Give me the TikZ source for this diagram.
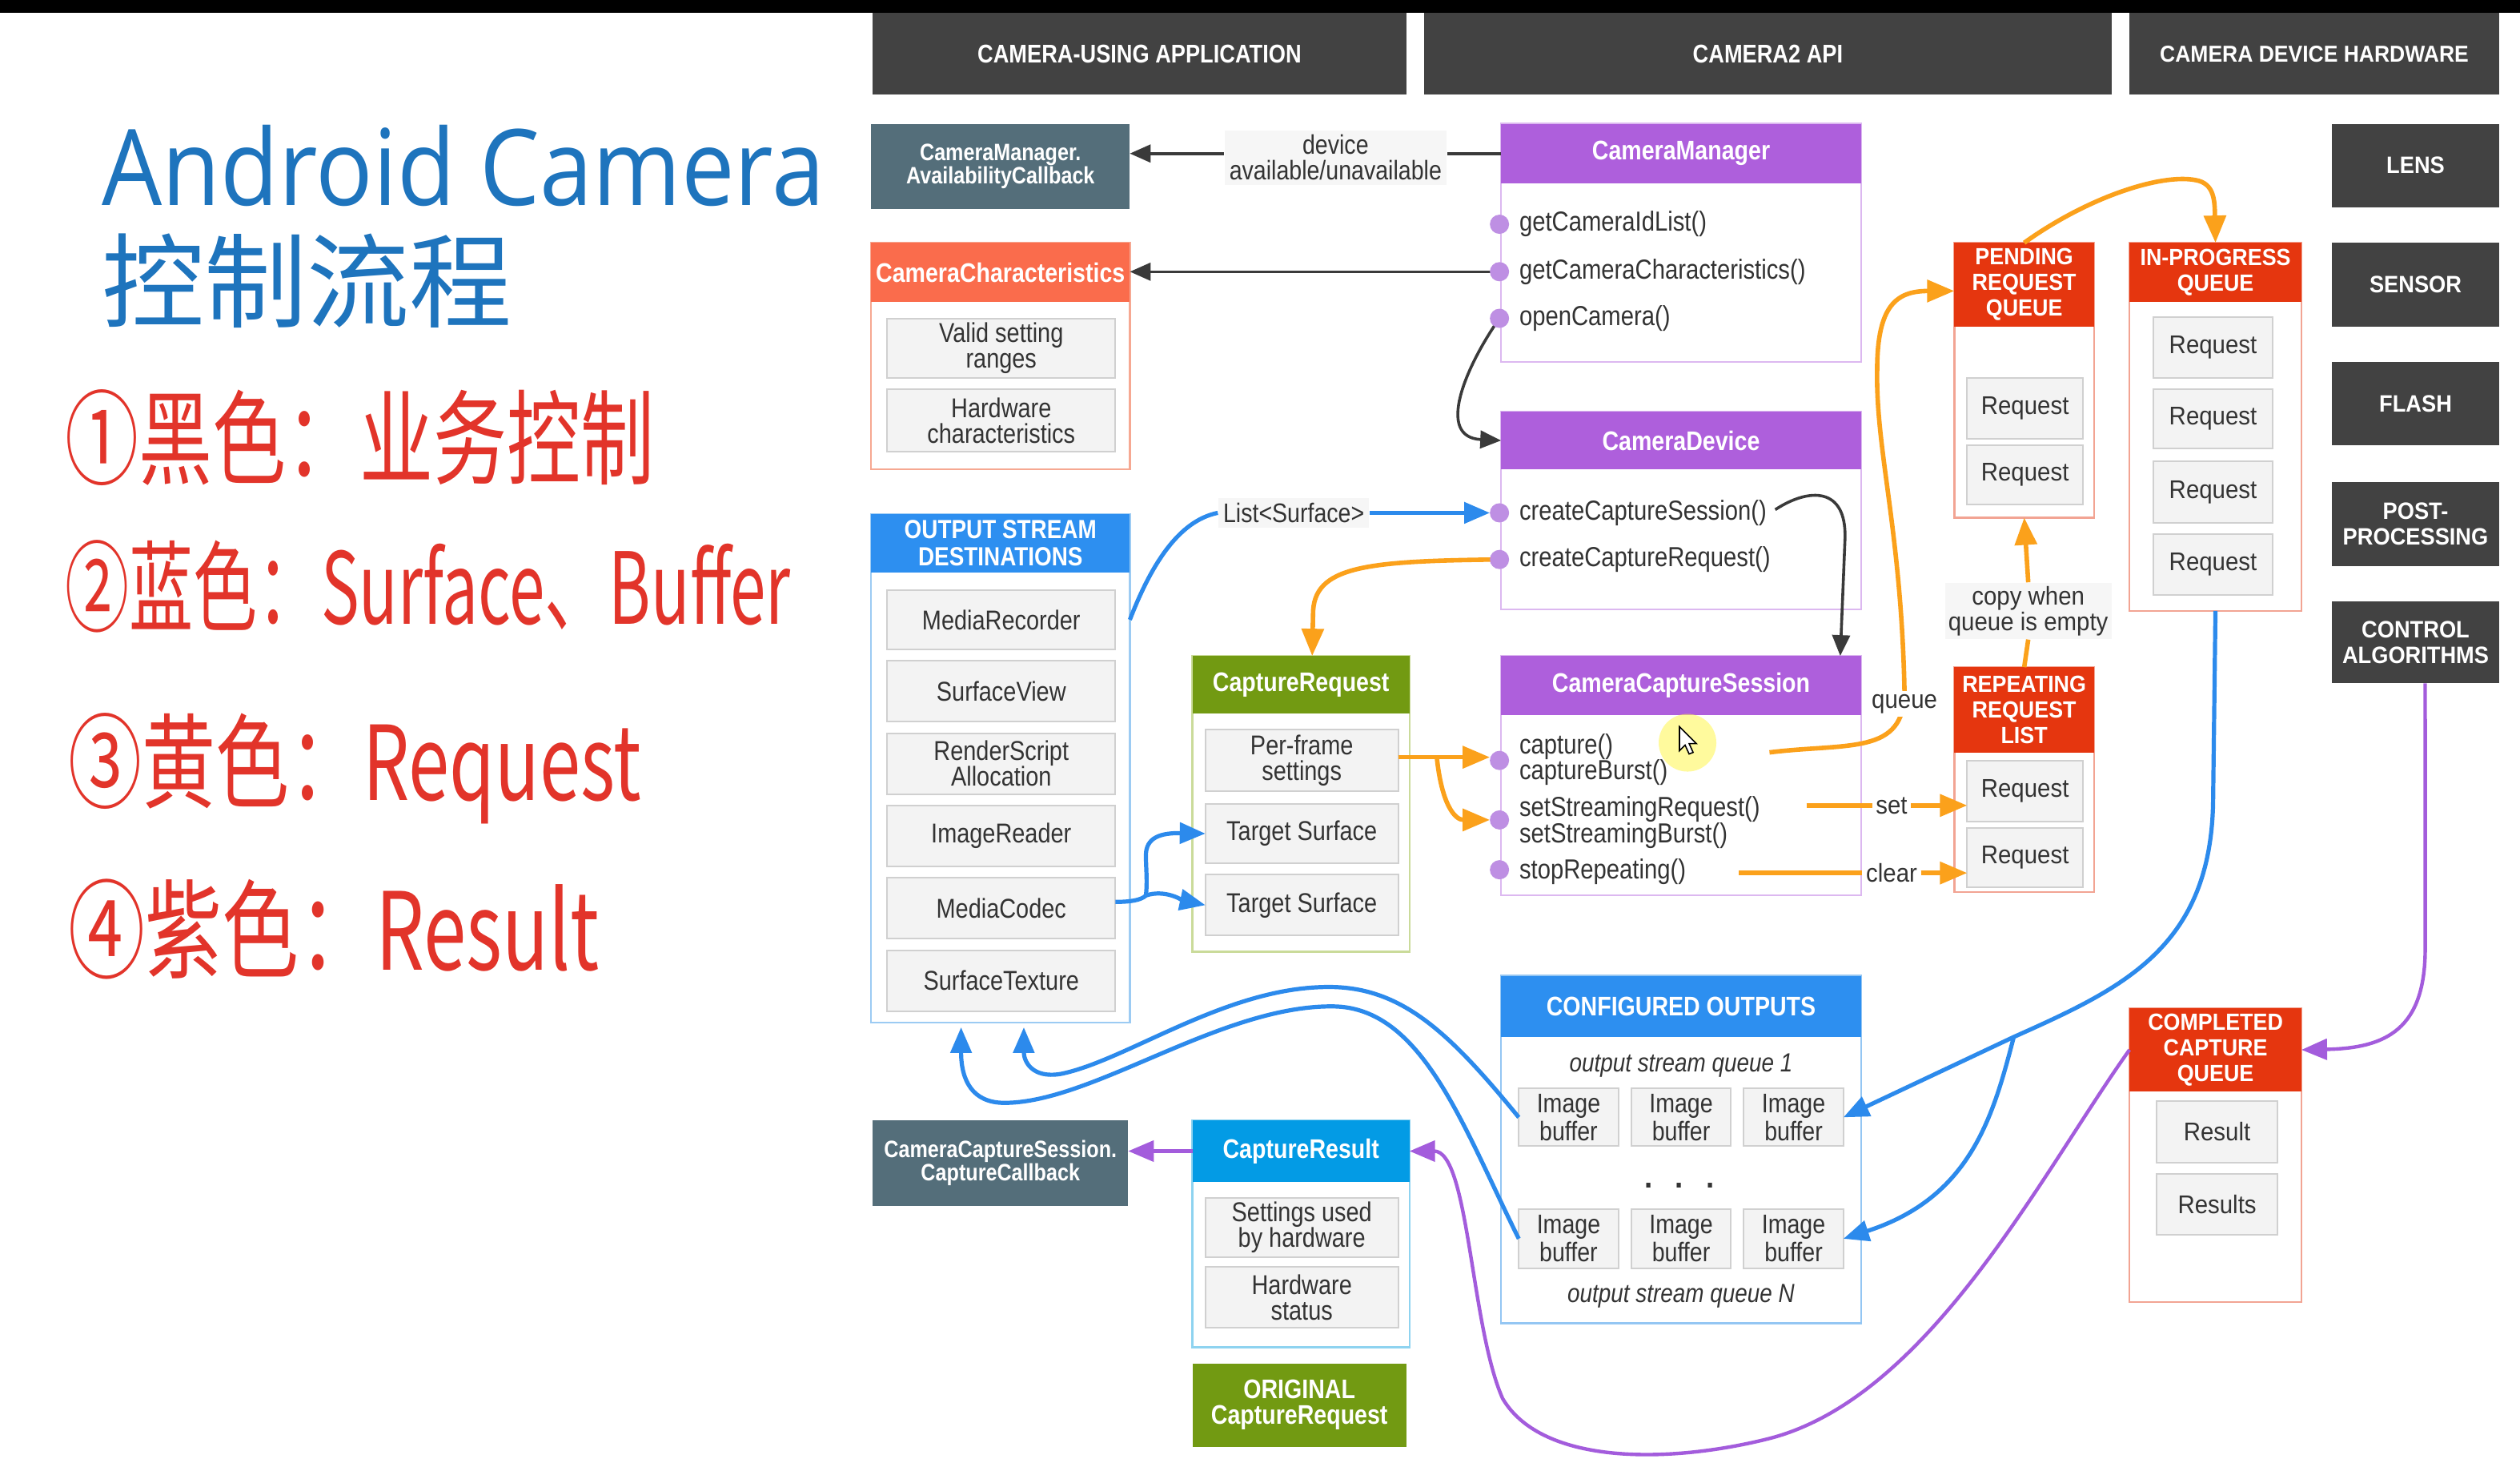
\documentclass[tikz,border=0pt]{standalone}
\usepackage{fontspec}
\usepackage{graphicx}
\usetikzlibrary{arrows.meta,calc}
\setmainfont{Liberation Sans}
\newfontfamily\cnd[FakeStretch=0.85]{Liberation Sans}
\newfontfamily\wde[FakeStretch=0.92]{Liberation Sans}
\newfontfamily\ttl[FakeStretch=0.9]{Open Sans}
\newfontfamily\cjk{Noto Sans CJK SC}
\pgfdeclarelayer{bg}
\pgfsetlayers{bg,main}
\definecolor{hdrgray}{HTML}{424242}
\definecolor{slate}{HTML}{546E7A}
\definecolor{ccorange}{HTML}{FA6C4C}
\definecolor{qred}{HTML}{E5360F}
\definecolor{purp}{HTML}{AE5FDC}
\definecolor{blu}{HTML}{2D8FF0}
\definecolor{cyanb}{HTML}{039BE5}
\definecolor{grn}{HTML}{729A12}
\definecolor{org}{HTML}{FBA11B}
\definecolor{arrblue}{HTML}{2C8AEC}
\definecolor{arrpurp}{HTML}{A35CDC}
\definecolor{arrblack}{HTML}{3A3A3A}
\definecolor{itemfill}{HTML}{F3F3F3}
\definecolor{itemdraw}{HTML}{D0D0D0}
\definecolor{txt}{HTML}{333333}
\definecolor{titleblue}{HTML}{1E74BD}
\definecolor{hand}{HTML}{E2342A}
\definecolor{ccl}{HTML}{F6A892}
\definecolor{osl}{HTML}{9CCBF3}
\definecolor{crl}{HTML}{CADB9A}
\definecolor{resl}{HTML}{8ED3F0}
\definecolor{purl}{HTML}{DCB8F0}
\definecolor{col}{HTML}{94C6F3}
\definecolor{ql}{HTML}{F2A493}
\definecolor{lblfill}{HTML}{F6F6F6}
\definecolor{dotc}{HTML}{BE8FE3}
\tikzset{
  bx/.style={inner sep=0pt, outer sep=0pt, align=center},
  hdrbar/.style={bx, fill=hdrgray, text=white, font=\cnd\bfseries\fontsize{8}{9}\selectfont},
  hwbox/.style={bx, fill=hdrgray, text=white, font=\wde\bfseries\fontsize{7.4}{8}\selectfont},
  slatebox/.style={bx, fill=slate, text=white, font=\cnd\bfseries\fontsize{7.4}{7.2}\selectfont},
  chead/.style={bx, fill=#1, text=white, font=\cnd\bfseries\fontsize{8.4}{8.3}\selectfont},
  qhead/.style={bx, fill=qred, text=white, font=\wde\bfseries\fontsize{7.3}{8}\selectfont},
  bodyb/.style={bx, draw=#1, line width=0.6pt},
  item/.style={bx, fill=itemfill, draw=itemdraw, line width=0.5pt, text=txt, font=\cnd\fontsize{8.5}{8}\selectfont},
  bitem/.style={bx, fill=itemfill, draw=itemdraw, line width=0.5pt, text=txt, font=\cnd\fontsize{8.4}{7.6}\selectfont},
  ritem/.style={bx, fill=itemfill, draw=itemdraw, line width=0.5pt, text=txt, font=\wde\fontsize{8}{8}\selectfont},
  meth/.style={inner sep=0pt, anchor=west, align=left, text=txt, font=\cnd\fontsize{8.6}{8.2}\selectfont},
  mdot/.style={circle, fill=dotc, minimum size=6pt, inner sep=0pt},
  lbl/.style={inner sep=1.5pt, fill=lblfill, text=txt, align=center, font=\cnd\fontsize{8.4}{7.9}\selectfont},
  wlbl/.style={inner sep=1pt, fill=white, text=txt, align=center, font=\wde\fontsize{8}{8}\selectfont},
  itl/.style={inner sep=0pt, text=txt, font=\cnd\itshape\fontsize{8.2}{8}\selectfont},
  handw/.style={inner sep=0pt, anchor=west, text=hand, font=\cjk\fontsize{23}{23}\selectfont},
  blkarr/.style={draw=arrblack, line width=0.9pt, -{Triangle[length=6.5pt,width=5.5pt]}},
  blkline/.style={draw=arrblack, line width=0.9pt},
  bluarr/.style={draw=arrblue, line width=1.3pt, -{Triangle[length=8pt,width=6.5pt]}},
  bluline/.style={draw=arrblue, line width=1.3pt},
  orgarr/.style={draw=org, line width=1.4pt, -{Triangle[length=8.5pt,width=6.8pt]}},
  orgline/.style={draw=org, line width=1.4pt},
  purarr/.style={draw=arrpurp, line width=1.1pt, -{Triangle[length=8pt,width=6.5pt]}},
}
% box node from corner (x1,y1) to (x2,y2), in picture units
\newcommand\bxn[7]{%
  \pgfmathsetmacro\bxw{(#5-#3)*0.50191}%
  \pgfmathsetmacro\bxh{(#6-#4)*0.50191}%
  \pgfmathsetmacro\bxcx{(#3+#5)/2}%
  \pgfmathsetmacro\bxcy{(#4+#6)/2}%
  \node[#1, minimum width=\bxw pt, minimum height=\bxh pt] (#2) at (\bxcx,\bxcy) {#7};}
\begin{document}
\begin{tikzpicture}[x=0.50191pt, y=-0.50191pt]
\useasboundingbox (0,0) rectangle (1568,910);
\fill[white] (0,0) rectangle (1568,910);
% video player overlay
\begin{pgfonlayer}{bg}
\shade[top color=white, bottom color=black!25] (640,878) rectangle (1273,905);
\fill[black] (640,905) rectangle (1273,910);
\shade[top color=white, bottom color=black!25] (1503,878) rectangle (1568,905);
\fill[black] (1503,905) rectangle (1568,910);
\shade[top color=white, bottom color=black!25] (0,868) rectangle (40,905);
\fill[black] (0,905) rectangle (40,910);
\draw[black!25, line width=0.8pt] (4,887) circle [radius=7pt];
\draw[black!25, line width=0.8pt] (30,887) circle [radius=7pt];
\end{pgfonlayer}
\fill[black] (0,0) rectangle (1568,8);

% title and notes
\node[anchor=base west, inner sep=0pt, text=titleblue, font=\ttl\fontsize{33}{33}\selectfont] (title) at (63,128) {Android Camera};
\node[anchor=base west, inner sep=0pt, text=titleblue, font=\cjk\fontsize{32}{32}\selectfont] (title2) at (63,199) {控制流程};
\node[handw] (n1) at (40,272) {\scalebox{1}[1.4]{①黑色：业务控制}};
\node[handw, font=\cjk\fontsize{20}{20}\selectfont] (n2) at (40,365) {\scalebox{1}[1.55]{②蓝色：Surface、Buffer}};
\node[handw] (n3) at (42,478) {\scalebox{1}[1.4]{③黄色：Request}};
\node[handw, font=\cjk\fontsize{24}{24}\selectfont] (n4) at (42,578) {\scalebox{1}[1.4]{④紫色：Result}};

% column headers
\bxn{hdrbar}{h1}{543}{8}{875}{59}{CAMERA-USING APPLICATION}
\bxn{hdrbar}{h2}{886}{8}{1314}{59}{CAMERA2 API}
\bxn{hwbox, font=\wde\bfseries\fontsize{7.2}{8}\selectfont}{h3}{1325}{8}{1555}{59}{CAMERA DEVICE HARDWARE}

% hardware
\bxn{hwbox}{lens}{1451}{77}{1555}{129}{LENS}
\bxn{hwbox}{sensor}{1451}{151}{1555}{203}{SENSOR}
\bxn{hwbox}{flash}{1451}{225}{1555}{277}{FLASH}
\bxn{hwbox}{post}{1451}{300}{1555}{352}{POST-\\PROCESSING}
\bxn{hwbox}{ctrl}{1451}{374}{1555}{425}{CONTROL\\ALGORITHMS}

% application column
\bxn{slatebox}{avail}{542}{77}{703}{130}{CameraManager.\\AvailabilityCallback}
\bxn{bodyb=ccl}{ccbody}{542}{151}{703}{292}{}
\bxn{chead=ccorange}{cc}{542}{151}{703}{188}{CameraCharacteristics}
\bxn{item}{vsr}{552}{198}{694}{235}{Valid setting\\ranges}
\bxn{item}{hwc}{552}{242}{694}{281}{Hardware\\characteristics}
\bxn{bodyb=osl}{osbody}{542}{320}{703}{636}{}
\bxn{chead=blu, font=\cnd\bfseries\fontsize{8.2}{8.5}\selectfont}{os}{542}{320}{703}{356}{OUTPUT STREAM\\DESTINATIONS}
\bxn{item}{mr}{552}{367}{694}{404}{MediaRecorder}
\bxn{item}{sv}{552}{411}{694}{449}{SurfaceView}
\bxn{item}{rs}{552}{456}{694}{494}{RenderScript\\Allocation}
\bxn{item}{ird}{552}{501}{694}{539}{ImageReader}
\bxn{item}{mc}{552}{546}{694}{584}{MediaCodec}
\bxn{item}{st}{552}{591}{694}{629}{SurfaceTexture}
\bxn{slatebox}{cbk}{543}{697}{702}{750}{CameraCaptureSession.\\CaptureCallback}

% request / result column
\bxn{bodyb=crl}{crbody}{742}{408}{877}{592}{}
\bxn{chead=grn}{cr}{742}{408}{877}{444}{CaptureRequest}
\bxn{item}{pfs}{750}{454}{870}{492}{Per-frame\\settings}
\bxn{item}{ts1}{750}{500}{870}{537}{Target Surface}
\bxn{item}{ts2}{750}{544}{870}{582}{Target Surface}
\bxn{bodyb=resl}{resbody}{742}{697}{877}{838}{}
\bxn{chead=cyanb}{res}{742}{697}{877}{735}{CaptureResult}
\bxn{item}{suh}{750}{745}{870}{782}{Settings used\\by hardware}
\bxn{item}{hws}{750}{788}{870}{826}{Hardware\\status}
\bxn{chead=grn, font=\cnd\bfseries\fontsize{8.4}{8}\selectfont}{orig}{742}{848}{875}{900}{ORIGINAL\\CaptureRequest}

% API column
\bxn{bodyb=purl}{cmbody}{934}{77}{1158}{225}{}
\bxn{chead=purp}{cm}{934}{77}{1158}{114}{CameraManager}
\bxn{bodyb=purl}{cdbody}{934}{256}{1158}{379}{}
\bxn{chead=purp}{cd}{934}{256}{1158}{292}{CameraDevice}
\bxn{bodyb=purl, fill=white, fill opacity=0.7}{csbody}{934}{408}{1158}{557}{}
\bxn{chead=purp}{cs}{934}{408}{1158}{445}{CameraCaptureSession}
\bxn{bodyb=col}{cobody}{934}{607}{1158}{823}{}
\bxn{chead=blu}{co}{934}{607}{1158}{645}{CONFIGURED OUTPUTS}

\node[meth] (m1) at (945,139.5) {getCameraIdList()};
\node[meth] (m2) at (945,169) {getCameraCharacteristics()};
\node[meth] (m3) at (945,198) {openCamera()};
\node[meth] (m4) at (945,319) {createCaptureSession()};
\node[meth] (m5) at (945,348) {createCaptureRequest()};
\node[meth] (m6) at (945,472.5) {capture()\\captureBurst()};
\node[meth] (m7) at (945,511.5) {setStreamingRequest()\\setStreamingBurst()};
\node[meth] (m8) at (945,542) {stopRepeating()};

\node[itl] (q1) at (1046,663) {output stream queue 1};
\bxn{bitem}{b11}{945}{677}{1007}{713}{Image\\buffer}
\bxn{bitem}{b12}{1015}{677}{1077}{713}{Image\\buffer}
\bxn{bitem}{b13}{1085}{677}{1147}{713}{Image\\buffer}
\node[anchor=base, inner sep=0pt, text=txt, font=\wde\bfseries\fontsize{10}{10}\selectfont] (dd) at (1045,739) {.\hspace{7pt}.\hspace{7pt}.};
\bxn{bitem}{b21}{945}{752}{1007}{789}{Image\\buffer}
\bxn{bitem}{b22}{1015}{752}{1077}{789}{Image\\buffer}
\bxn{bitem}{b23}{1085}{752}{1147}{789}{Image\\buffer}
\node[itl] (qn) at (1046,806) {output stream queue N};

% queues
\bxn{bodyb=ql}{pqbody}{1216}{151}{1303}{322}{}
\bxn{qhead}{pq}{1216}{151}{1303}{203}{PENDING\\REQUEST\\QUEUE}
\bxn{ritem}{pr1}{1224}{235}{1296}{273}{Request}
\bxn{ritem}{pr2}{1224}{277}{1296}{314}{Request}
\bxn{bodyb=ql}{ipbody}{1325}{151}{1432}{380}{}
\bxn{qhead}{ip}{1325}{151}{1432}{188}{IN-PROGRESS\\QUEUE}
\bxn{ritem}{ir1}{1340}{197}{1414}{235}{Request}
\bxn{ritem}{ir2}{1340}{242}{1414}{279}{Request}
\bxn{ritem}{ir3}{1340}{287}{1414}{325}{Request}
\bxn{ritem}{ir4}{1340}{332}{1414}{370}{Request}
\bxn{bodyb=ql}{rrbody}{1216}{415}{1303}{555}{}
\bxn{qhead}{rr}{1216}{415}{1303}{468}{REPEATING\\REQUEST\\LIST}
\bxn{ritem}{rq1}{1224}{473}{1296}{511}{Request}
\bxn{ritem}{rq2}{1224}{515}{1296}{552}{Request}
\bxn{bodyb=ql}{ccqbody}{1325}{627}{1432}{810}{}
\bxn{qhead}{ccq}{1325}{627}{1432}{679}{COMPLETED\\CAPTURE\\QUEUE}
\bxn{ritem}{cres1}{1342}{685}{1417}{723}{Result}
\bxn{ritem}{cres2}{1342}{730}{1417}{768}{Results}

% labels
\node[lbl] (devlbl) at (831,98) {device\\available/unavailable};
\node[lbl] (lslbl) at (805,319) {List<Surface>};
\node[wlbl, fill=lblfill] (copylbl) at (1262,380) {copy when\\queue is empty};
\node[wlbl] (setlbl) at (1177,501) {set};
\node[wlbl] (clearlbl) at (1177,543) {clear};

% blue connector passing behind the session box
\begin{pgfonlayer}{bg}
\draw[bluarr] ([xshift=4pt,yshift=-0.5pt]m4.east) .. controls (1138,315) and (1140,328) .. (1128,347) .. controls (1090,430) and (1047,520) .. (co.north);
\end{pgfonlayer}

% black connectors
\draw[blkline] (cm.west) -- (cm.west -| devlbl.east);
\draw[blkarr] (devlbl.west |- cm.west) -- (avail.east |- cm.west);
\draw[blkarr] (933,169) -- (cc.east |- 0,169);
\draw[blkarr] (933,198) .. controls (912,228) and (893,272) .. (cd.west);
\draw[blkarr] ([xshift=2.5pt,yshift=1pt]m4.east) .. controls (1126,303) and (1149,303) .. (1148,335) -- ([xshift=-6.5pt]cs.north east);

% blue connectors
\draw[bluline] (osbody.east |- mr.east) .. controls (716,352) and (733,324) .. (lslbl.west);
\draw[bluarr] (lslbl.east) -- (927,319);
\coordinate (mcj) at (713,557);
\draw[bluline] (mc.east |- 0,561) .. controls (703,561) and (710,560) .. (mcj);
\draw[bluarr] (mcj) .. controls (714,548) and (713,540) .. (713,532) .. controls (713,521) and (722,518) .. (ts1.west);
\draw[bluarr] (mcj) .. controls (725,553) and (736,560) .. (ts2.west);
\coordinate (bj) at (1253,645);
\draw[bluarr] (ipbody.south) -- (1377,500) .. controls (1375,590) and (1320,615) .. (bj) -- (b13.east);
\draw[bluarr] (bj) .. controls (1240,695) and (1226,745) .. (b23.east);
\draw[bluarr] (b11.west) .. controls (900,640) and (870,612) .. (822,614) .. controls (760,616) and (700,660) .. (660,668) .. controls (642,671) and (637,660) .. ([xshift=7.3pt,yshift=-1.5pt]osbody.south);
\draw[bluarr] (b21.west) .. controls (910,700) and (885,627) .. (830,626) .. controls (760,625) and (680,686) .. (625,686) .. controls (605,686) and (598,672) .. ([xshift=-12.3pt,yshift=-1.5pt]osbody.south);

% orange connectors
\draw[orgarr] (933,348) .. controls (850,349) and (817,352) .. (817,382) -- ([xshift=3.5pt]cr.north);
\draw[orgarr] (pfs.east |- 0,471) -- (927,471);
\draw[orgarr] (894,471) .. controls (897,500) and (905,510) .. (927,510);
\draw[orgarr] (1101,468) .. controls (1150,462) and (1185,470) .. (1185,430) .. controls (1183,330) and (1167,280) .. (1168,230) .. controls (1168,190) and (1180,181) .. (pq.west |- 0,181);
\node[wlbl] (queuelbl) at (1185,438) {queue};
\draw[orgline] (1124,501) -- (setlbl.west);
\draw[orgarr] (setlbl.east) -- (rq1.west |- setlbl.east);
\draw[orgline] (1082,543) -- (clearlbl.west);
\draw[orgarr] (clearlbl.east) -- (rq2.west |- clearlbl.east);
\draw[orgline] (rr.north) -- (copylbl.south);
\draw[orgarr] (copylbl.north) -- (pqbody.south);
\draw[orgarr] (pq.north) .. controls (1300,122) and (1345,108) .. (1366,112) .. controls (1378,114) and (1378,125) .. (ip.north);

% purple connectors
\draw[purarr] ([xshift=3pt]ctrl.south) -- (1509,590) .. controls (1509,640) and (1485,652) .. (ccq.east);
\draw[purarr] (ccq.west) .. controls (1270,730) and (1200,870) .. (1100,895) .. controls (1040,910) and (960,912) .. (935,870) .. controls (915,825) and (914,716) .. (res.east);
\draw[purarr] (res.west) -- (cbk.east |- res.west);

% method dots
\foreach \n/\yy in {d1/139.5, d2/169, d3/198, d4/319, d5/348, d6/473, d7/510, d8/541}
  \node[mdot] (\n) at (933,\yy) {};

% mouse cursor
\fill[yellow!70!white, opacity=0.55] (1050,462) circle [radius=9pt];
\draw[black, fill=white, line width=0.4pt] (1045,452) -- (1045,467) -- (1048.5,463.5) -- (1051,469) -- (1053.5,468) -- (1051,462.5) -- (1055.5,462.5) -- cycle;
\end{tikzpicture}
\end{document}
